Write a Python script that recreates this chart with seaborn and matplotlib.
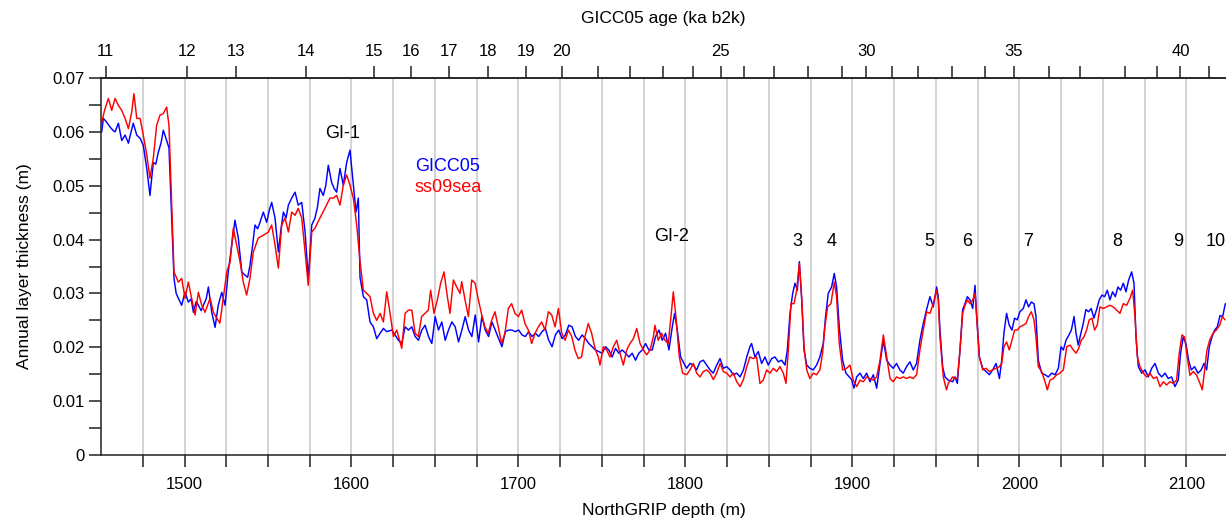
import numpy as np
import pandas as pd
import matplotlib
matplotlib.use("Agg")
import matplotlib.pyplot as plt
import seaborn as sns

# GICC05 layer thickness (blue)
depth_gicc = [
    1450.4, 1451.4, 1453.4, 1455.4, 1457.4, 1458.4, 1460.4, 1462.4, 1464.4, 1466.4,
    1468.0, 1469.3, 1471.4, 1473.4, 1475.3, 1477.4, 1479.3, 1481.3, 1482.8, 1484.3,
    1486.0, 1487.3, 1489.3, 1490.7, 1492.3, 1493.7, 1495.0, 1496.3, 1498.3, 1500.3,
    1502.3, 1504.0, 1505.3, 1507.0, 1508.3, 1510.0, 1511.3, 1513.0, 1514.3, 1516.3,
    1518.3, 1520.2, 1522.3, 1524.3, 1526.2, 1528.3, 1530.2, 1532.2, 1534.3, 1536.2,
    1537.8, 1539.2, 1540.8, 1542.2, 1543.8, 1545.2, 1547.2, 1549.2, 1550.8, 1552.2,
    1554.2, 1556.2, 1557.8, 1559.2, 1560.8, 1562.2, 1564.2, 1566.2, 1568.1, 1570.2,
    1572.2, 1574.1, 1576.2, 1578.1, 1579.6, 1581.1, 1583.1, 1584.6, 1586.1, 1588.1,
    1589.6, 1591.1, 1593.1, 1595.1, 1597.1, 1599.1, 1601.1, 1602.7, 1604.1, 1605.1,
    1607.1, 1609.1, 1611.1, 1613.1, 1615.1, 1617.1, 1619.1, 1621.1, 1624.1, 1626.1,
    1628.1, 1630.1, 1632.1, 1634.1, 1636.1, 1638.1, 1640.1, 1642.1, 1644.1, 1646.1,
    1648.1, 1650.1, 1652.1, 1654.1, 1656.1, 1658.1, 1660.1, 1662.1, 1664.1, 1666.1,
    1668.1, 1670.1, 1672.1, 1674.1, 1676.1, 1678.1, 1680.1, 1682.1, 1684.1, 1686.1,
    1688.1, 1690.1, 1692.1, 1694.1, 1696.1, 1698.1, 1700.1, 1702.1, 1704.1, 1706.1,
    1708.1, 1710.1, 1712.1, 1714.1, 1716.1, 1718.1, 1720.1, 1722.1, 1724.1, 1726.1,
    1728.1, 1730.1, 1732.1, 1734.1, 1736.1, 1738.1, 1740.1, 1742.1, 1744.1, 1746.1,
    1748.1, 1750.1, 1752.1, 1754.1, 1756.1, 1758.1, 1760.1, 1762.1, 1764.1, 1766.1,
    1768.1, 1770.1, 1772.1, 1774.1, 1776.1, 1778.1, 1780.1, 1782.1, 1784.1, 1786.1,
    1788.1, 1790.1, 1792.1, 1793.5, 1795.1, 1797.1, 1799.1,
    1800.7, 1802.7, 1804.7, 1806.7, 1808.7, 1810.7, 1812.7, 1814.7, 1816.7, 1818.7,
    1820.7, 1822.7, 1824.7, 1826.7, 1828.7, 1830.7, 1832.7, 1834.7, 1836.7, 1838.6,
    1839.6, 1841.6, 1843.6, 1845.6, 1847.6, 1849.6, 1851.6, 1853.6, 1855.6, 1857.6,
    1859.6, 1861.0, 1862.6, 1864.2, 1865.6, 1867.0, 1868.2, 1869.6, 1871.0, 1872.6,
    1874.5, 1876.5, 1878.5, 1880.5, 1882.5, 1883.9, 1885.5, 1887.5, 1889.1, 1890.5,
    1892.1, 1894.1, 1896.1, 1898.1, 1899.5, 1900.9, 1902.5, 1904.5, 1906.5, 1908.5,
    1910.5, 1912.5, 1914.5, 1916.5, 1918.5, 1920.5, 1922.5, 1924.4, 1926.4, 1928.4,
    1930.4, 1932.4, 1934.4, 1936.4, 1938.4, 1940.4, 1942.4, 1944.4, 1946.4, 1948.4,
    1950.4, 1951.4, 1952.4, 1954.0, 1955.4, 1957.4,
    1960.0, 1961.4, 1962.8, 1964.4, 1966.0, 1967.4, 1968.8, 1970.4, 1972.0, 1973.4,
    1974.4, 1976.0, 1978.0, 1980.0, 1982.0, 1984.0, 1986.0, 1988.0, 1989.4, 1990.7,
    1992.3, 1993.9, 1995.5, 1997.1, 1998.7, 2000.3, 2002.3, 2003.9, 2005.5, 2007.1,
    2008.7, 2009.9, 2011.3, 2013.3, 2015.3, 2017.3, 2019.3, 2021.3, 2023.3, 2024.9,
    2026.3, 2027.9, 2029.5, 2031.1, 2032.7, 2033.9, 2035.2, 2036.8, 2038.2, 2039.8,
    2041.4, 2043.0, 2044.6, 2046.2, 2047.8, 2049.4, 2051.0, 2052.6, 2054.2, 2055.8,
    2057.4, 2059.0, 2060.6, 2062.2, 2063.8, 2065.4, 2067.2, 2068.6, 2069.8, 2071.2,
    2073.2, 2075.2, 2077.2, 2079.2, 2081.2, 2083.2, 2085.2, 2087.2, 2089.1, 2091.1,
    2093.1, 2095.1, 2096.5, 2098.1, 2099.7, 2101.3, 2102.9, 2104.9, 2106.9, 2108.9,
    2110.5, 2112.1, 2113.7, 2115.3, 2116.9, 2118.5, 2120.1, 2121.7, 2123.3,
]
thick_gicc = [
    0.0600, 0.0625, 0.0618, 0.0609, 0.0602, 0.0600, 0.0616, 0.0584, 0.0594, 0.0579,
    0.0600, 0.0616, 0.0594, 0.0588, 0.0575, 0.0532, 0.0482, 0.0543, 0.0540, 0.0562,
    0.0580, 0.0603, 0.0584, 0.0570, 0.0440, 0.0328, 0.0300, 0.0291, 0.0278, 0.0302,
    0.0284, 0.0290, 0.0265, 0.0285, 0.0278, 0.0268, 0.0278, 0.0290, 0.0312, 0.0265,
    0.0237, 0.0278, 0.0302, 0.0278, 0.0340, 0.0390, 0.0436, 0.0403, 0.0340, 0.0334,
    0.0330, 0.0352, 0.0390, 0.0427, 0.0420, 0.0432, 0.0451, 0.0432, 0.0455, 0.0469,
    0.0440, 0.0377, 0.0420, 0.0451, 0.0440, 0.0464, 0.0477, 0.0488, 0.0464, 0.0469,
    0.0414, 0.0328, 0.0427, 0.0440, 0.0460, 0.0495, 0.0482, 0.0500, 0.0538, 0.0506,
    0.0495, 0.0488, 0.0532, 0.0501, 0.0543, 0.0566, 0.0501, 0.0451, 0.0477, 0.0330,
    0.0294, 0.0288, 0.0247, 0.0238, 0.0216, 0.0226, 0.0235, 0.0229, 0.0232, 0.0223,
    0.0213, 0.0207, 0.0238, 0.0232, 0.0238, 0.0220, 0.0213, 0.0232, 0.0241, 0.0220,
    0.0207, 0.0257, 0.0232, 0.0247, 0.0213, 0.0232, 0.0247, 0.0238, 0.0210, 0.0232,
    0.0257, 0.0232, 0.0220, 0.0260, 0.0210, 0.0257, 0.0232, 0.0220, 0.0247, 0.0232,
    0.0216, 0.0201, 0.0229, 0.0232, 0.0232, 0.0229, 0.0232, 0.0223, 0.0220, 0.0229,
    0.0220, 0.0226, 0.0220, 0.0229, 0.0235, 0.0213, 0.0201, 0.0223, 0.0232, 0.0216,
    0.0223, 0.0241, 0.0238, 0.0220, 0.0213, 0.0223, 0.0216, 0.0207, 0.0201, 0.0195,
    0.0192, 0.0189, 0.0201, 0.0195, 0.0182, 0.0198, 0.0189, 0.0195, 0.0189, 0.0182,
    0.0189, 0.0176, 0.0189, 0.0195, 0.0207, 0.0195, 0.0195, 0.0220, 0.0232, 0.0213,
    0.0226, 0.0195, 0.0238, 0.0263, 0.0232, 0.0182, 0.0170,
    0.0161, 0.0170, 0.0167, 0.0158, 0.0173, 0.0176, 0.0167, 0.0158, 0.0152, 0.0167,
    0.0179, 0.0161, 0.0164, 0.0158, 0.0149, 0.0152, 0.0145, 0.0158, 0.0182, 0.0201,
    0.0207, 0.0182, 0.0192, 0.0170, 0.0182, 0.0167, 0.0179, 0.0182, 0.0173, 0.0176,
    0.0167, 0.0195, 0.0263, 0.0300, 0.0319, 0.0306, 0.0359, 0.0288, 0.0195, 0.0167,
    0.0161, 0.0158, 0.0167, 0.0182, 0.0207, 0.0257, 0.0300, 0.0312, 0.0337, 0.0312,
    0.0238, 0.0176, 0.0152, 0.0145, 0.0140, 0.0124, 0.0145, 0.0152, 0.0142, 0.0152,
    0.0136, 0.0149, 0.0124, 0.0170, 0.0213, 0.0176, 0.0167, 0.0161, 0.0170, 0.0158,
    0.0152, 0.0164, 0.0173, 0.0158, 0.0170, 0.0213, 0.0244, 0.0270, 0.0294, 0.0275,
    0.0312, 0.0294, 0.0232, 0.0164, 0.0145, 0.0139,
    0.0136, 0.0145, 0.0133, 0.0195, 0.0270, 0.0281, 0.0294, 0.0288, 0.0272, 0.0315,
    0.0257, 0.0182, 0.0161, 0.0155, 0.0149, 0.0158, 0.0170, 0.0142, 0.0176, 0.0226,
    0.0263, 0.0241, 0.0232, 0.0254, 0.0251, 0.0266, 0.0272, 0.0288, 0.0275, 0.0284,
    0.0281, 0.0257, 0.0176, 0.0152, 0.0149, 0.0145, 0.0152, 0.0149, 0.0161, 0.0201,
    0.0195, 0.0213, 0.0222, 0.0232, 0.0257, 0.0226, 0.0204, 0.0226, 0.0244, 0.0270,
    0.0266, 0.0272, 0.0254, 0.0270, 0.0288, 0.0297, 0.0294, 0.0306, 0.0288, 0.0303,
    0.0294, 0.0312, 0.0306, 0.0319, 0.0303, 0.0325, 0.0340, 0.0319, 0.0219, 0.0164,
    0.0152, 0.0158, 0.0145, 0.0161, 0.0170, 0.0152, 0.0145, 0.0152, 0.0142, 0.0145,
    0.0127, 0.0139, 0.0189, 0.0219, 0.0207, 0.0176, 0.0158, 0.0164, 0.0152, 0.0158,
    0.0170, 0.0158, 0.0201, 0.0219, 0.0232, 0.0238, 0.0259, 0.0257, 0.0281,
]

# ss09sea layer thickness (red)
depth_ss09 = [
    1450.4, 1452.4, 1454.4, 1456.4, 1458.4, 1460.4, 1462.4, 1464.4, 1466.4, 1468.4,
    1469.7, 1471.4, 1473.4, 1475.3, 1477.4, 1479.3, 1481.3, 1483.3, 1485.3, 1487.3,
    1489.3, 1490.7, 1492.3, 1493.7, 1496.3, 1498.3, 1500.3, 1502.3, 1504.3, 1506.3,
    1508.3, 1510.3, 1512.3, 1515.3, 1517.3, 1519.3, 1521.2, 1523.2, 1525.3, 1527.3,
    1529.2, 1531.2, 1533.3, 1535.2, 1537.2, 1539.2, 1541.2, 1544.2, 1547.2, 1550.2,
    1552.2, 1554.2, 1556.2, 1558.2, 1560.2, 1562.2, 1564.2, 1566.2, 1568.1, 1570.2,
    1572.2, 1574.1, 1576.2, 1578.1, 1581.1, 1584.1, 1587.1, 1589.1, 1591.1, 1593.1,
    1595.1, 1597.1, 1599.1, 1601.1, 1603.1, 1605.1,
    1607.1, 1609.1, 1611.1, 1613.1, 1615.1, 1617.1, 1619.1, 1621.1, 1623.1, 1625.1,
    1627.1, 1630.1, 1632.1, 1634.1, 1636.1, 1638.1, 1640.0, 1642.0, 1644.0, 1646.0,
    1647.4, 1649.4, 1651.4, 1653.4, 1655.4, 1657.4, 1659.0, 1661.0, 1663.0, 1665.0,
    1666.0, 1668.0, 1670.0, 1672.0, 1674.0, 1676.0, 1678.0, 1679.9, 1681.9, 1683.9,
    1685.9, 1687.9, 1689.9, 1691.9, 1693.9, 1695.9, 1697.9, 1699.9, 1701.9, 1703.9,
    1705.9, 1707.9, 1709.9, 1711.9, 1713.9, 1715.9, 1717.9, 1719.9, 1721.9, 1723.9,
    1725.9, 1727.9, 1729.9, 1731.9, 1733.8, 1735.8, 1737.8, 1739.8, 1741.8, 1743.8,
    1745.8, 1747.8, 1748.8, 1750.8, 1752.8, 1754.8, 1756.8, 1758.8, 1760.8, 1762.8,
    1764.8, 1766.8, 1768.8, 1770.8, 1772.8, 1774.8, 1776.8, 1778.8, 1780.8, 1781.7,
    1783.7, 1785.7, 1787.7, 1789.7, 1791.7, 1792.7, 1794.3, 1796.3, 1798.3,
    1800.7, 1802.7, 1804.7, 1806.7, 1808.7, 1810.7, 1812.7, 1814.7, 1816.7, 1818.7,
    1820.7, 1822.7, 1824.7, 1826.7, 1828.7, 1830.7, 1832.7, 1834.7, 1836.7, 1838.6,
    1840.6, 1842.6, 1844.6, 1846.6, 1848.6, 1850.6, 1852.6, 1854.6, 1856.6, 1858.6,
    1860.2, 1861.6, 1863.2, 1865.0, 1866.6, 1868.2, 1869.6, 1871.0, 1872.6, 1874.5,
    1876.5, 1878.5, 1880.5, 1882.1, 1883.5, 1885.1, 1887.1, 1889.1, 1890.5, 1892.1,
    1894.1, 1896.5, 1898.5, 1900.5, 1902.5, 1904.5, 1906.5, 1908.5, 1910.5, 1912.5,
    1914.5, 1916.5, 1918.5, 1920.5, 1922.5, 1924.4, 1926.4, 1928.4, 1930.4, 1932.4,
    1934.4, 1936.4, 1938.4, 1940.4, 1942.4, 1944.4, 1946.4, 1948.4, 1950.4, 1951.4,
    1952.4, 1954.4, 1956.3, 1957.4,
    1960.0, 1961.4, 1962.8, 1964.4, 1966.0, 1967.4, 1968.8, 1970.4, 1972.0, 1973.4,
    1974.4, 1976.0, 1978.0, 1980.0, 1982.0, 1984.0, 1986.0, 1988.0, 1989.4, 1990.7,
    1992.3, 1993.9, 1995.5, 1997.1, 1998.7, 2000.3, 2002.3, 2003.9, 2005.5, 2007.1,
    2008.7, 2009.9, 2011.3, 2013.3, 2015.3, 2016.7, 2018.3, 2020.3, 2022.3, 2024.3,
    2026.3, 2028.3, 2030.3, 2032.3, 2033.9, 2035.5, 2037.0, 2038.6, 2040.2, 2041.8,
    2043.4, 2045.0, 2046.6, 2048.2, 2050.2, 2052.2, 2054.2, 2056.2, 2058.2, 2060.2,
    2062.2, 2064.2, 2066.2, 2067.8, 2069.2, 2070.6, 2072.2, 2074.2, 2076.2, 2078.2,
    2080.2, 2082.2, 2084.2, 2086.2, 2088.1, 2090.1, 2092.1, 2094.1, 2095.7, 2097.3,
    2098.9, 2100.5, 2102.1, 2104.1, 2106.1, 2108.1, 2109.5, 2110.9, 2112.3, 2113.9,
    2115.9, 2117.9, 2119.9, 2121.5, 2123.1,
]
thick_ss09 = [
    0.0618, 0.0643, 0.0662, 0.0640, 0.0662, 0.0649, 0.0640, 0.0625, 0.0606, 0.0637,
    0.0671, 0.0625, 0.0625, 0.0594, 0.0557, 0.0514, 0.0551, 0.0612, 0.0631, 0.0634,
    0.0646, 0.0612, 0.0470, 0.0340, 0.0321, 0.0328, 0.0291, 0.0321, 0.0291, 0.0260,
    0.0302, 0.0278, 0.0265, 0.0291, 0.0265, 0.0254, 0.0245, 0.0291, 0.0340, 0.0358,
    0.0421, 0.0390, 0.0358, 0.0321, 0.0297, 0.0328, 0.0377, 0.0403, 0.0408, 0.0414,
    0.0427, 0.0390, 0.0347, 0.0427, 0.0440, 0.0414, 0.0451, 0.0445, 0.0458, 0.0440,
    0.0377, 0.0315, 0.0414, 0.0421, 0.0440, 0.0458, 0.0477, 0.0477, 0.0482, 0.0464,
    0.0501, 0.0520, 0.0501, 0.0477, 0.0427, 0.0360,
    0.0306, 0.0300, 0.0294, 0.0263, 0.0250, 0.0263, 0.0247, 0.0303, 0.0263, 0.0220,
    0.0232, 0.0198, 0.0263, 0.0269, 0.0269, 0.0226, 0.0220, 0.0257, 0.0263, 0.0269,
    0.0306, 0.0263, 0.0288, 0.0319, 0.0340, 0.0294, 0.0263, 0.0325, 0.0312, 0.0300,
    0.0322, 0.0288, 0.0257, 0.0325, 0.0319, 0.0288, 0.0260, 0.0238, 0.0226, 0.0250,
    0.0266, 0.0238, 0.0207, 0.0226, 0.0272, 0.0281, 0.0263, 0.0257, 0.0269, 0.0244,
    0.0232, 0.0207, 0.0226, 0.0238, 0.0247, 0.0232, 0.0266, 0.0260, 0.0238, 0.0272,
    0.0226, 0.0213, 0.0232, 0.0220, 0.0195, 0.0179, 0.0182, 0.0220, 0.0244, 0.0226,
    0.0198, 0.0182, 0.0167, 0.0201, 0.0195, 0.0182, 0.0201, 0.0213, 0.0189, 0.0167,
    0.0195, 0.0207, 0.0216, 0.0235, 0.0207, 0.0195, 0.0186, 0.0195, 0.0220, 0.0241,
    0.0213, 0.0226, 0.0213, 0.0207, 0.0269, 0.0303, 0.0257, 0.0182, 0.0152,
    0.0149, 0.0158, 0.0170, 0.0152, 0.0145, 0.0155, 0.0158, 0.0152, 0.0140, 0.0152,
    0.0170, 0.0155, 0.0152, 0.0145, 0.0152, 0.0136, 0.0127, 0.0140, 0.0164, 0.0182,
    0.0179, 0.0182, 0.0133, 0.0139, 0.0158, 0.0152, 0.0161, 0.0155, 0.0164, 0.0152,
    0.0133, 0.0195, 0.0281, 0.0281, 0.0306, 0.0356, 0.0294, 0.0201, 0.0158, 0.0142,
    0.0152, 0.0149, 0.0158, 0.0189, 0.0238, 0.0275, 0.0281, 0.0321, 0.0294, 0.0207,
    0.0158, 0.0161, 0.0167, 0.0139, 0.0127, 0.0139, 0.0136, 0.0145, 0.0142, 0.0139,
    0.0145, 0.0176, 0.0223, 0.0182, 0.0142, 0.0136, 0.0145, 0.0142, 0.0145, 0.0142,
    0.0145, 0.0142, 0.0149, 0.0195, 0.0232, 0.0266, 0.0263, 0.0281, 0.0306, 0.0288,
    0.0219, 0.0145, 0.0121, 0.0133,
    0.0145, 0.0142, 0.0142, 0.0195, 0.0263, 0.0278, 0.0288, 0.0281, 0.0288, 0.0300,
    0.0257, 0.0182, 0.0158, 0.0161, 0.0155, 0.0158, 0.0161, 0.0164, 0.0170, 0.0201,
    0.0210, 0.0195, 0.0213, 0.0232, 0.0232, 0.0238, 0.0241, 0.0244, 0.0257, 0.0266,
    0.0251, 0.0219, 0.0164, 0.0155, 0.0136, 0.0121, 0.0139, 0.0142, 0.0149, 0.0152,
    0.0158, 0.0201, 0.0204, 0.0195, 0.0189, 0.0198, 0.0213, 0.0219, 0.0232, 0.0251,
    0.0254, 0.0232, 0.0241, 0.0275, 0.0272, 0.0275, 0.0278, 0.0275, 0.0269, 0.0263,
    0.0281, 0.0278, 0.0291, 0.0306, 0.0257, 0.0182, 0.0164, 0.0152, 0.0145, 0.0152,
    0.0142, 0.0145, 0.0127, 0.0136, 0.0130, 0.0136, 0.0133, 0.0139, 0.0189, 0.0223,
    0.0219, 0.0182, 0.0148, 0.0155, 0.0148, 0.0133, 0.0121, 0.0158, 0.0195, 0.0213,
    0.0226, 0.0232, 0.0241, 0.0257, 0.0251,
]

# top axis: GICC05 age (ka b2k) at NorthGRIP depth
age_ka = list(range(11, 42))
age_depth = [
    1452.7, 1501.3, 1530.8, 1572.5, 1613.2, 1635.9, 1658.4, 1682.0, 1704.3, 1725.9,
    1747.8, 1766.8, 1786.3, 1804.5, 1821.0, 1835.3, 1853.2, 1873.1, 1893.9, 1908.3,
    1923.5, 1939.1, 1959.4, 1979.5, 1996.5, 2017.5, 2036.3, 2063.4, 2082.5, 2096.4,
    2113.8,
]
age_labeled = [11, 12, 13, 14, 15, 16, 17, 18, 19, 20, 25, 30, 35, 40]

# interstadial labels
event_labels = ["GI-1", "GI-2", "3", "4", "5", "6", "7", "8", "9", "10"]
event_x = [1594.9, 1791.9, 1866.8, 1887.7, 1945.8, 1968.6, 2005.1, 2058.4, 2094.9, 2117.7]
event_y = [0.0597, 0.0406, 0.0397, 0.0397, 0.0397, 0.0397, 0.0397, 0.0397, 0.0397, 0.0397]

sns.set_style("ticks")
plt.rcParams['font.family'] = ['Liberation Sans', 'DejaVu Sans']

df_g = pd.DataFrame({'depth': depth_gicc, 'thick': thick_gicc})
df_s = pd.DataFrame({'depth': depth_ss09, 'thick': thick_ss09})

fig = plt.figure(figsize=(12.26, 5.2), dpi=100)
ax = fig.add_axes([0.0824, 0.125, 0.9176, 0.725])

sns.lineplot(data=df_g, x='depth', y='thick', ax=ax, color='#0000ff', lw=1.05,
             estimator=None, sort=False)
sns.lineplot(data=df_s, x='depth', y='thick', ax=ax, color='#ff0000', lw=1.05,
             estimator=None, sort=False)

xmin, xmax = 1450, 2123.7
ax.set_xlim(xmin, xmax)
ax.set_ylim(0, 0.07)

tick_kw = dict(direction='out', length=8.5, width=1.1, colors='#222222', labelsize=12)
xt = np.arange(1475, 2125, 25)
ax.set_xticks(xt)
ax.set_xticklabels([str(int(v)) if v % 100 == 0 else '' for v in xt])
ax.set_yticks(np.arange(0, 0.0701, 0.005))
ax.set_yticklabels(['0' if i == 0 else ('%.2f' % (i * 0.005) if i % 2 == 0 else '')
                    for i in range(15)])
ax.tick_params(axis='both', **tick_kw)
ax.tick_params(axis='x', pad=7, labelcolor='black')
ax.tick_params(axis='y', pad=3, labelcolor='black')
ax.grid(axis='x', color='#c8c8c8', lw=1.1)
ax.set_axisbelow(True)

for s in ['left', 'bottom', 'top']:
    ax.spines[s].set_color('#222222')
    ax.spines[s].set_linewidth(1.1)
ax.spines['right'].set_visible(False)

ax.set_xlabel('NorthGRIP depth (m)', fontsize=12.5, labelpad=8, color='black')
ax.set_ylabel('Annual layer thickness (m)', fontsize=12.5, labelpad=15, color='black')

# top age axis
ax2 = ax.twiny()
ax2.set_xlim(xmin, xmax)
ax2.set_xticks(age_depth)
ax2.set_xticklabels([str(a) if a in age_labeled else '' for a in age_ka])
ax2.tick_params(axis='x', **tick_kw)
ax2.tick_params(axis='x', pad=5, labelcolor='black')
for s in ['left', 'bottom', 'right']:
    ax2.spines[s].set_visible(False)
ax2.spines['top'].set_color('#222222')
ax2.spines['top'].set_linewidth(1.1)
ax2.set_xlabel('GICC05 age (ka b2k)', fontsize=12.5, labelpad=15, color='black')

for lab, x, y in zip(event_labels, event_x, event_y):
    ax.text(x, y, lab, ha='center', va='center', fontsize=13, color='black')

ax.text(1657.8, 0.0536, 'GICC05', ha='center', va='center', fontsize=13, color='#0000ff')
ax.text(1657.8, 0.0497, 'ss09sea', ha='center', va='center', fontsize=13, color='#ff0000')

fig.savefig('out.png', dpi=100)
